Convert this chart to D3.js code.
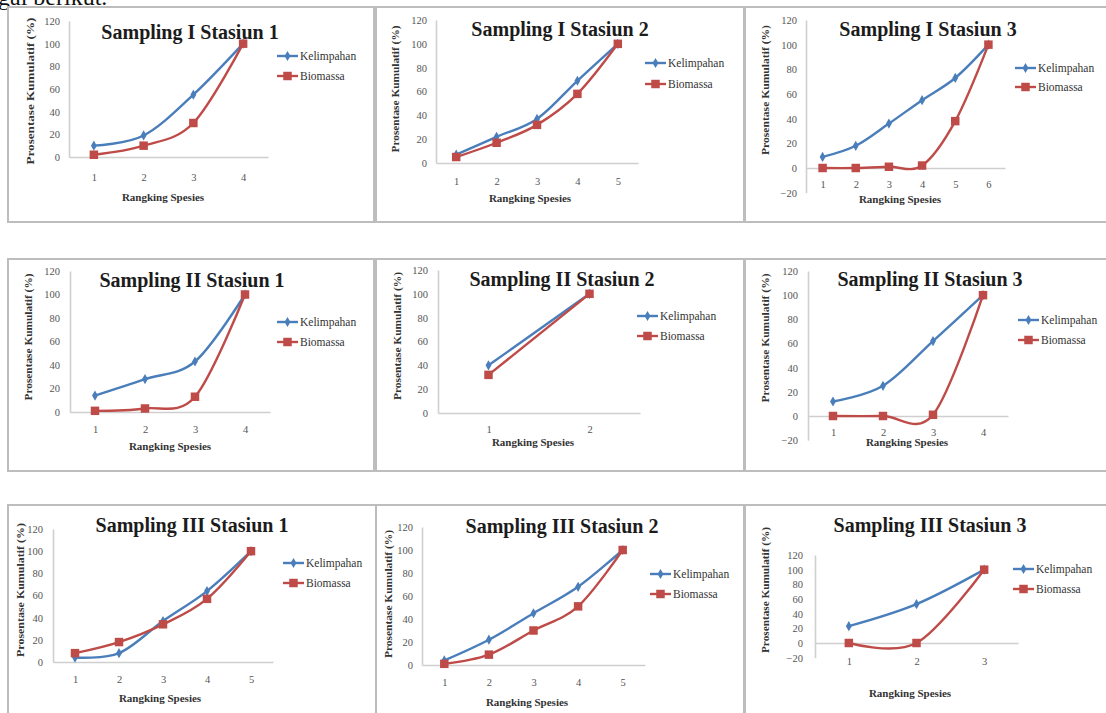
<!DOCTYPE html>
<html>
<head>
<meta charset="utf-8">
<script src="https://cdn.jsdelivr.net/npm/d3@7"></script>
<style>
    body { margin: 0; background: #fff; }
    svg { display: block; font-family: "Liberation Serif", "Times New Roman", serif; }
</style>
</head>
<body>
<svg id="chart" width="1106" height="713"></svg>
<script>
// ---- data ----
const titles = [
    "Sampling I Stasiun 1", "Sampling I Stasiun 2", "Sampling I Stasiun 3",
    "Sampling II Stasiun 1", "Sampling II Stasiun 2", "Sampling II Stasiun 3",
    "Sampling III Stasiun 1", "Sampling III Stasiun 2", "Sampling III Stasiun 3"
];
const ranks = [
    [1, 2, 3, 4], [1, 2, 3, 4, 5], [1, 2, 3, 4, 5, 6],
    [1, 2, 3, 4], [1, 2], [1, 2, 3, 4],
    [1, 2, 3, 4, 5], [1, 2, 3, 4, 5], [1, 2, 3]
];
const kelimpahan = [
    [10, 19, 55, 100],
    [7, 22, 37, 69, 100],
    [9, 18, 36, 55, 73, 100],
    [14, 28, 43, 100],
    [40, 100],
    [12, 25, 62, 100],
    [4, 8, 37, 64, 100],
    [4, 22, 45, 68, 100],
    [23, 53, 100]
];
const biomassa = [
    [2, 10, 30, 100],
    [5, 17, 32, 58, 100],
    [0, 0, 1, 2, 38, 100],
    [1, 3, 13, 100],
    [32, 100],
    [0, 0, 1, 100],
    [8, 18, 34, 57, 100],
    [1, 9, 30, 51, 100],
    [0, 0, 100]
];
const yMins = [0, 0, -20, 0, 0, -20, 0, 0, -20];
const yTickValues = [-20, 0, 20, 40, 60, 80, 100, 120];
const yMax = 120;
const seriesNames = ["Kelimpahan", "Biomassa"];
const xLabel = "Rangking Spesies";
const yLabel = "Prosentase Kumulatif (%)";

// ---- layout of each scanned panel ----
// plot: [left, right, y of 120, y of 0]
const panels = [
    {frame: [8, 7, 366, 215], plot: [69, 268, 21, 157], title: [190, 32], legend: [277, 56, 76], yTitle: [30, 91, 147], xTitle: [163, 197], catPad: 21, tickPad: 9},
    {frame: [376, 7, 368, 215], plot: [436, 638, 20, 163], title: [560, 29], legend: [645, 63, 84], yTitle: [395, 89, 127], xTitle: [530, 198], catPad: 19, tickPad: 9},
    {frame: [745, 7, 370, 215], plot: [806, 1005, 20, 168], title: [928, 29], legend: [1015, 68, 87], yTitle: [765, 90, 130], xTitle: [900, 199], catPad: 17, tickPad: 9},
    {frame: [8, 259, 366, 212], plot: [70, 270, 271, 412], title: [192, 280], legend: [277, 322, 342], yTitle: [28, 337, 127], xTitle: [170, 446], catPad: 18, tickPad: 10},
    {frame: [376, 259, 368, 212], plot: [438, 640, 270, 413], title: [562, 279], legend: [637, 316, 336], yTitle: [397, 336, 128], xTitle: [533, 442], catPad: 17, tickPad: 10},
    {frame: [745, 259, 370, 212], plot: [808, 1008, 271, 416], title: [930, 279], legend: [1018, 320, 340], yTitle: [765, 338, 129], xTitle: [907, 442], catPad: 17, tickPad: 10},
    {frame: [8, 505, 368, 220], plot: [53, 273, 529, 662], title: [192, 525], legend: [283, 563, 583], yTitle: [20, 590, 134], xTitle: [160, 698], catPad: 18, tickPad: 10},
    {frame: [376, 505, 368, 220], plot: [422, 645, 527, 665], title: [562, 526], legend: [650, 574, 594], yTitle: [388, 594, 128], xTitle: [527, 702], catPad: 18, tickPad: 9},
    {frame: [745, 505, 370, 220], plot: [815, 1018, 555, 643], title: [930, 525], legend: [1013, 569, 589], yTitle: [765, 590, 126], xTitle: [910, 693], catPad: 19, tickPad: 12}
];

const colors = {Kelimpahan: "#4a7ebb", Biomassa: "#be4b48"};
const markers = {Kelimpahan: d3.symbol(d3.symbolDiamond, 30), Biomassa: d3.symbol(d3.symbolSquare, 72)};

const svg = d3.select("#chart");

// bit of the page text above the figure, cut off by the crop
svg.append("text")
    .attr("x", -2)
    .attr("y", 5)
    .attr("font-size", 24)
    .attr("fill", "#111")
    .text("gai berikut.");

panels.forEach((p, i) => {
    const g = svg.append("g");

    g.append("rect")
        .attr("x", p.frame[0])
        .attr("y", p.frame[1])
        .attr("width", p.frame[2])
        .attr("height", p.frame[3])
        .attr("fill", "none")
        .attr("stroke", "#bdbdbd")
        .attr("stroke-width", 2);

    const xScale = d3.scalePoint()
        .domain(ranks[i])
        .range([p.plot[0], p.plot[1]])
        .padding(0.5);

    const y0 = d3.scaleLinear().domain([0, yMax]).range([p.plot[3], p.plot[2]]);
    const yScale = d3.scaleLinear()
        .domain([yMins[i], yMax])
        .range([y0(yMins[i]), p.plot[2]]);

    const yAxis = g.append("g")
        .attr("transform", `translate(${p.plot[0]},0)`)
        .call(d3.axisLeft(yScale)
            .tickValues(yTickValues.filter(t => t >= yMins[i]))
            .tickSize(0)
            .tickPadding(p.tickPad));

    const xAxis = g.append("g")
        .attr("transform", `translate(0,${yScale(0)})`)
        .call(d3.axisBottom(xScale)
            .tickSize(0)
            .tickPadding(p.catPad - 4));

    [yAxis, xAxis].forEach(ax => {
        ax.select(".domain").attr("stroke", "#cfcfcf").attr("stroke-width", 1.6);
        ax.selectAll("text")
            .attr("font-family", "Liberation Serif, serif")
            .attr("font-size", 10.5)
            .attr("fill", "#555");
    });

    // series lines, Excel style smoothing
    const line = d3.line()
        .x((d, j) => xScale(ranks[i][j]))
        .y(d => yScale(d))
        .curve(d3.curveCardinal.tension(0));

    [[seriesNames[0], kelimpahan[i]], [seriesNames[1], biomassa[i]]].forEach(([name, vals]) => {
        g.append("path")
            .attr("d", line(vals))
            .attr("fill", "none")
            .attr("stroke", colors[name])
            .attr("stroke-width", 2.4);

        g.selectAll(null)
            .data(vals)
            .join("path")
            .attr("transform", (d, j) => `translate(${xScale(ranks[i][j])},${yScale(d)})`)
            .attr("d", markers[name])
            .attr("fill", colors[name]);
    });

    // legend
    seriesNames.forEach((name, k) => {
        const ly = p.legend[1 + k];
        g.append("line")
            .attr("x1", p.legend[0])
            .attr("x2", p.legend[0] + 21)
            .attr("y1", ly)
            .attr("y2", ly)
            .attr("stroke", colors[name])
            .attr("stroke-width", 2.4);
        g.append("path")
            .attr("transform", `translate(${p.legend[0] + 10.5},${ly})`)
            .attr("d", markers[name])
            .attr("fill", colors[name]);
        g.append("text")
            .attr("x", p.legend[0] + 23)
            .attr("y", ly)
            .attr("dominant-baseline", "central")
            .attr("font-size", 11.5)
            .attr("fill", "#333")
            .text(name);
    });

    g.append("text")
        .attr("x", p.title[0])
        .attr("y", p.title[1])
        .attr("text-anchor", "middle")
        .attr("dominant-baseline", "central")
        .attr("font-size", 20)
        .attr("font-weight", "bold")
        .attr("fill", "#1c1c1c")
        .text(titles[i]);

    g.append("text")
        .attr("x", p.xTitle[0])
        .attr("y", p.xTitle[1])
        .attr("text-anchor", "middle")
        .attr("dominant-baseline", "central")
        .attr("font-size", 11)
        .attr("font-weight", "bold")
        .attr("fill", "#333")
        .text(xLabel);

    g.append("text")
        .attr("transform", `translate(${p.yTitle[0]},${p.yTitle[1]}) rotate(-90)`)
        .attr("text-anchor", "middle")
        .attr("dominant-baseline", "central")
        .attr("font-size", 10.5)
        .attr("font-weight", "bold")
        .attr("fill", "#333")
        .attr("textLength", p.yTitle[2])
        .attr("lengthAdjust", "spacingAndGlyphs")
        .text(yLabel);
});
</script>
</body>
</html>
